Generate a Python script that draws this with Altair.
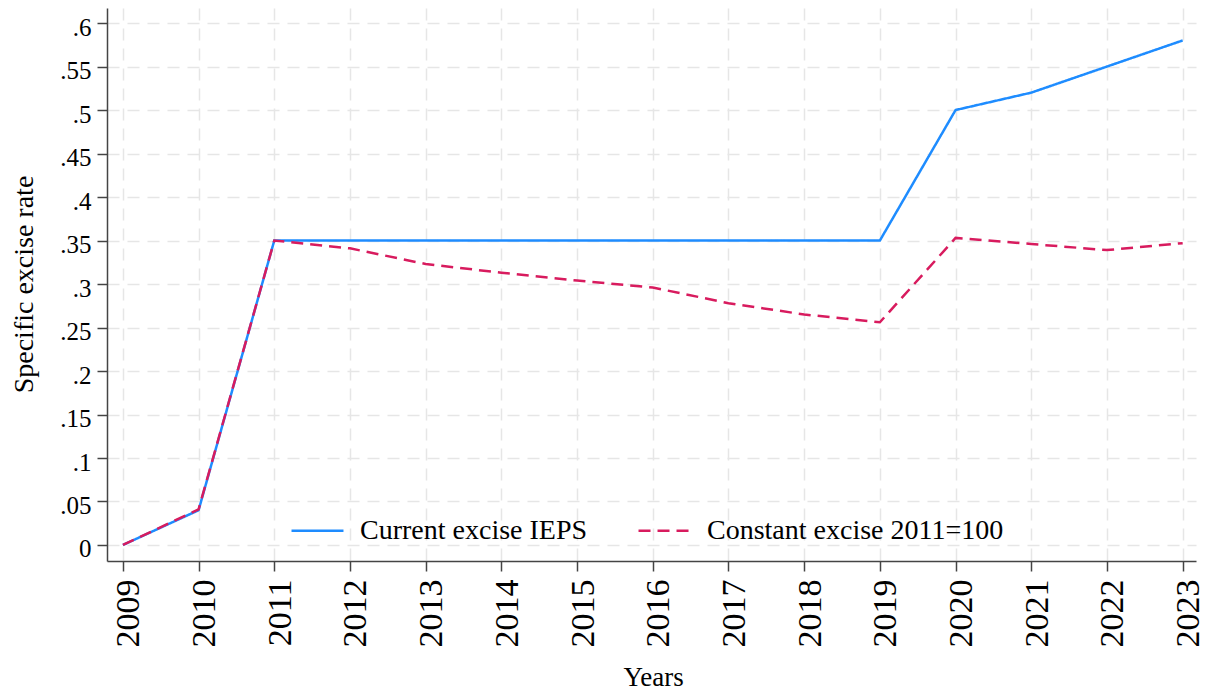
import altair as alt
import pandas as pd

years = list(range(2009, 2024))
current = [0.0, 0.04, 0.35, 0.35, 0.35, 0.35, 0.35, 0.35, 0.35, 0.35, 0.35, 0.50, 0.52, 0.55, 0.58]
constant = [0.0, 0.041, 0.35, 0.341, 0.323, 0.313, 0.304, 0.296, 0.278, 0.265, 0.256, 0.353, 0.346, 0.339, 0.347]
series_names = ["Current excise IEPS", "Constant excise 2011=100"]
series_colors = ["#1e8cff", "#d81b5e"]
series_dashes = [[1, 0], [12, 7]]
y_ticks = [0, 0.05, 0.1, 0.15, 0.2, 0.25, 0.3, 0.35, 0.4, 0.45, 0.5, 0.55, 0.6]

rows = []
for y, c, k in zip(years, current, constant):
    rows.append({"year": y, "value": c, "series": series_names[0]})
    rows.append({"year": y, "value": k, "series": series_names[1]})
df = pd.DataFrame(rows)

FONT = "Liberation Serif"
GRID = "#e6e6e6"
AXC = "#444444"

x_enc = alt.X(
    "year:Q",
    scale=alt.Scale(domain=[2008.79, 2023.176], nice=False, zero=False),
    axis=alt.Axis(
        values=years, format="d", title="Years", labelAngle=270,
        labelAlign="right", labelBaseline="middle", labelOffset=6,
        labelFontSize=34, labelPadding=8, tickSize=10,
        titleFontSize=27, titleX=546, titleY=124, titleBaseline="alphabetic",
        titleFontWeight="normal",
    ),
)
y_enc = alt.Y(
    "value:Q",
    scale=alt.Scale(domain=[-0.0184, 0.6173], nice=False, zero=False),
    axis=alt.Axis(
        values=y_ticks, title="Specific excise rate",
        labelExpr="datum.value == 0 ? '0' : replace(format(datum.value, '.2~f'), '0.', '.')",
        labelFontSize=25, labelPadding=6, tickSize=10, labelOffset=4,
        titleFontSize=28, titleAngle=270, titleX=-75, titleY=276,
        titleBaseline="alphabetic", titleAlign="center", titleFontWeight="normal",
    ),
)

def make_legend():
    return alt.Legend(
        title=None, orient="none", direction="horizontal",
        legendX=183, legendY=495, symbolType="stroke", symbolSize=2700,
        symbolStrokeWidth=2.5, labelFontSize=28, labelOffset=15,
        columnPadding=45, padding=0, labelLimit=600,
    )

color_enc = alt.Color(
    "series:N",
    scale=alt.Scale(domain=series_names, range=series_colors),
    legend=make_legend(),
)
dash_enc = alt.StrokeDash(
    "series:N",
    scale=alt.Scale(domain=series_names, range=series_dashes),
    legend=make_legend(),
)

base = alt.Chart(df).mark_line(strokeWidth=2.5).encode(
    x=x_enc, y=y_enc, color=color_enc, strokeDash=dash_enc
)
blue = base.transform_filter(alt.datum.series == series_names[0])
red = base.transform_filter(alt.datum.series == series_names[1])

chart = (
    alt.layer(blue, red)
    .properties(
        width=1089, height=553,
        autosize=alt.AutoSizeParams(type="none"),
        padding={"left": 99, "top": 0, "right": 4, "bottom": 128},
        background="white",
    )
    .configure_view(strokeWidth=0)
    .configure_axis(
        labelFont=FONT, titleFont=FONT, labelColor="black", titleColor="black",
        domainColor=AXC, domainWidth=1.5, tickColor=AXC, tickWidth=1.5,
        gridColor=GRID, gridDash=[12, 8], gridWidth=1.5, grid=True,
    )
    .configure_legend(labelFont=FONT, labelColor="black")
)

chart.save("out.html", embed_options={"renderer": "svg", "actions": False})
